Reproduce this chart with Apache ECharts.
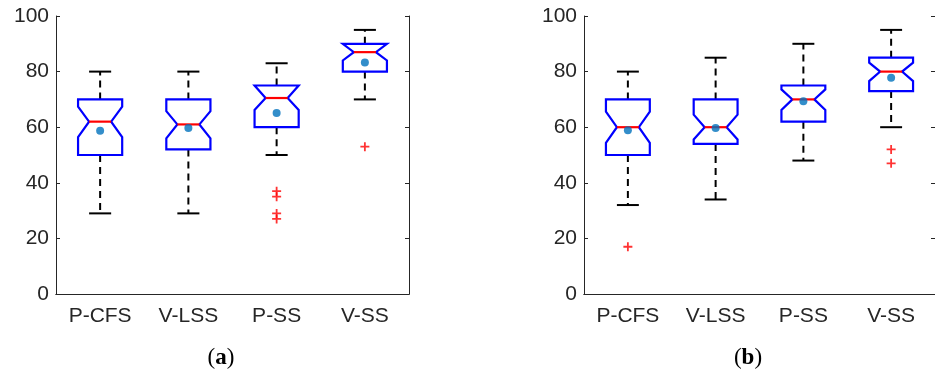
<!DOCTYPE html>
<html>
<head>
<meta charset="utf-8">
<title>Boxplots</title>
<script src="https://cdn.jsdelivr.net/npm/echarts@6/dist/echarts.min.js"></script>
<style>
  html, body { margin: 0; padding: 0; background: #fff; }
  #chart { width: 935px; height: 372px; }
</style>
</head>
<body>
<div id="chart"></div>
<script>
// categories
const categories = ["P-CFS", "V-LSS", "P-SS", "V-SS"];
const yTicks = [0, 20, 40, 60, 80, 100];

// panel (a)
const aWhiskerLow = [29, 29, 50, 70];
const aQ1 = [50, 52, 60, 80];
const aNotchLow = [56.4, 56, 66.2, 84];
const aMedian = [62, 61, 70.5, 87];
const aNotchHigh = [67.4, 65.8, 75, 90];
const aQ3 = [70, 70, 75, 90];
const aWhiskerHigh = [80, 80, 83, 95];
const aMean = [58.7, 59.7, 65.1, 83.3];
const aOutlierCat = ["P-SS", "P-SS", "P-SS", "P-SS", "V-SS"];
const aOutlierVal = [37, 35, 29, 27, 53];

// panel (b)
const bWhiskerLow = [32, 34, 48, 60];
const bQ1 = [50, 54, 62, 73];
const bNotchLow = [54.4, 55.6, 66.2, 76.6];
const bMedian = [60, 60, 70, 80];
const bNotchHigh = [65.6, 64.5, 73.6, 83.2];
const bQ3 = [70, 70, 75, 85];
const bWhiskerHigh = [80, 85, 90, 95];
const bMean = [58.9, 59.7, 69.3, 77.8];
const bOutlierCat = ["P-CFS", "V-SS", "V-SS"];
const bOutlierVal = [17, 52, 47];

const axisColor = "#262626";
const plusPath = "path://M4,0h2v4h4v2h-4v4h-2v-4h-4v-2h4z";

function boxRows(wl, q1, nl, med, nh, q3, wh) {
  return categories.map((c, i) => [i, wl[i], q1[i], nl[i], med[i], nh[i], q3[i], wh[i]]);
}

// notched box + whiskers
function renderBox(params, api) {
  const i = api.value(0);
  const band = api.size([1, 0])[0];
  const hw = band * 0.25;
  const nw = band * 0.125;
  const cw = band * 0.125;
  const y = k => api.coord([i, api.value(k)])[1];
  const x = api.coord([i, 0])[0];
  const yWL = y(1), yQ1 = y(2), yNL = y(3), yMed = y(4), yNH = y(5), yQ3 = y(6), yWH = y(7);
  const dash = { stroke: "#000", lineWidth: 2, lineDash: [7, 5] };
  const solid = { stroke: "#000", lineWidth: 2 };
  return {
    type: "group",
    children: [
      { type: "line", shape: { x1: x, y1: yQ3, x2: x, y2: yWH }, style: dash },
      { type: "line", shape: { x1: x, y1: yQ1, x2: x, y2: yWL }, style: dash },
      { type: "line", shape: { x1: x - cw, y1: yWH, x2: x + cw, y2: yWH }, style: solid },
      { type: "line", shape: { x1: x - cw, y1: yWL, x2: x + cw, y2: yWL }, style: solid },
      {
        type: "polygon",
        shape: {
          points: [
            [x - hw, yQ1], [x - hw, yNL], [x - nw, yMed], [x - hw, yNH], [x - hw, yQ3],
            [x + hw, yQ3], [x + hw, yNH], [x + nw, yMed], [x + hw, yNL], [x + hw, yQ1]
          ]
        },
        style: { fill: "#fff", stroke: "#0000ff", lineWidth: 2.2 }
      },
      { type: "line", shape: { x1: x - nw, y1: yMed, x2: x + nw, y2: yMed }, style: { stroke: "#ff0000", lineWidth: 2.2 } }
    ]
  };
}

function xAxes(gi) {
  const base = {
    gridIndex: gi,
    type: "category",
    data: categories,
    axisLine: { lineStyle: { color: axisColor, width: 1 } },
    axisTick: { alignWithLabel: true, inside: true, length: 4, lineStyle: { color: axisColor } },
    splitLine: { show: false }
  };
  return [
    Object.assign({}, base, {
      position: "bottom",
      axisLabel: { fontSize: 21, color: axisColor, fontFamily: "Liberation Sans", margin: 12 }
    }),
    Object.assign({}, base, { position: "top", axisLabel: { show: false } })
  ];
}

function yAxes(gi) {
  const base = {
    gridIndex: gi,
    type: "value",
    min: yTicks[0],
    max: yTicks[yTicks.length - 1],
    interval: yTicks[1] - yTicks[0],
    axisLine: { show: true, lineStyle: { color: axisColor, width: 1 } },
    axisTick: { show: true, inside: true, length: 4, lineStyle: { color: axisColor } },
    splitLine: { show: false }
  };
  return [
    Object.assign({}, base, {
      position: "left",
      axisLabel: { fontSize: 21, color: axisColor, fontFamily: "Liberation Sans", margin: 7 }
    }),
    Object.assign({}, base, { position: "right", axisLabel: { show: false } })
  ];
}

function panelSeries(xi, yi, rows, mean, outCat, outVal) {
  return [
    {
      type: "custom",
      xAxisIndex: xi,
      yAxisIndex: yi,
      renderItem: renderBox,
      data: rows,
      z: 2
    },
    {
      type: "scatter",
      xAxisIndex: xi,
      yAxisIndex: yi,
      symbol: "circle",
      symbolSize: 8,
      itemStyle: { color: "#0072BD" },
      data: categories.map((c, i) => [c, mean[i]]),
      z: 3
    },
    {
      type: "scatter",
      xAxisIndex: xi,
      yAxisIndex: yi,
      symbol: plusPath,
      symbolSize: 9,
      itemStyle: { color: "#ff0000" },
      data: outCat.map((c, i) => [c, outVal[i]]),
      z: 3
    }
  ];
}

function caption(letter, cx) {
  return {
    type: "text",
    x: cx, y: 358,
    style: {
      text: "{p|(}{b|" + letter + "}{p|)}",
      align: "center", verticalAlign: "middle",
      rich: {
        p: { fontFamily: "Liberation Serif", fontSize: 23, fill: "#000" },
        b: { fontFamily: "Liberation Serif", fontSize: 23, fontWeight: "bold", fill: "#000" }
      }
    }
  };
}

const chart = echarts.init(document.getElementById("chart"));
chart.setOption({
  animation: false,
  grid: [
    { left: 56, top: 16, width: 353, height: 278 },
    { left: 584, top: 16, width: 353, height: 278 }
  ],
  xAxis: xAxes(0).concat(xAxes(1)),
  yAxis: yAxes(0).concat(yAxes(1)),
  series: panelSeries(0, 0, boxRows(aWhiskerLow, aQ1, aNotchLow, aMedian, aNotchHigh, aQ3, aWhiskerHigh), aMean, aOutlierCat, aOutlierVal)
    .concat(panelSeries(2, 2, boxRows(bWhiskerLow, bQ1, bNotchLow, bMedian, bNotchHigh, bQ3, bWhiskerHigh), bMean, bOutlierCat, bOutlierVal)),
  graphic: [caption("a", 221), caption("b", 748)]
});
</script>
</body>
</html>
